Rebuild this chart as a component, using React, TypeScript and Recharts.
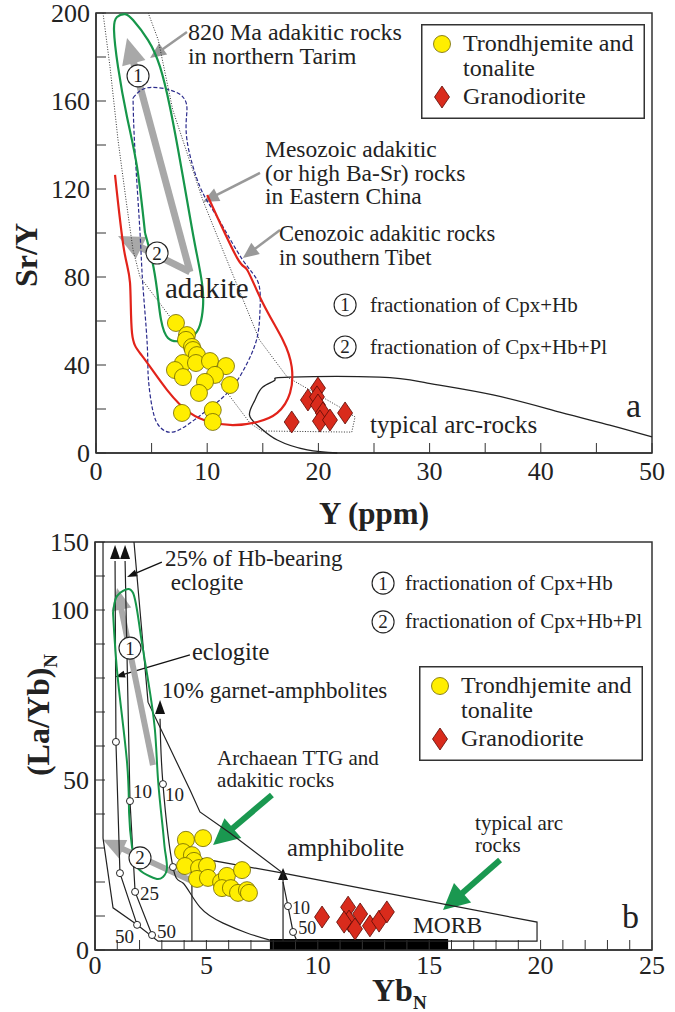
import React from "react";
import { ScatterChart, Scatter, XAxis, YAxis, ReferenceArea, ReferenceLine, ReferenceDot, Legend } from "recharts";

type Pt = [number, number];
const SERIF = "'Liberation Serif', 'Times New Roman', serif";
const INK = "#222";

// ---------- panel a : Sr/Y vs Y (ppm) ----------
const xTicksA = [0, 5, 10, 15, 20, 25, 30, 35, 40, 45, 50];
const xLabelsA = [0, 10, 20, 30, 40, 50];
const yTicksA = [0, 20, 40, 60, 80, 100, 120, 140, 160, 180, 200];
const yLabelsA = [0, 40, 80, 120, 160, 200];

const tonaliteA: Pt[] = [
  [7.19, 59.1], [8.18, 53.6], [8.09, 51.4], [8.63, 48.2], [8.72, 46.8], [9.08, 44.5],
  [7.82, 40.9], [8.99, 40.9], [10.25, 41.8], [11.69, 39.5], [7.1, 37.7], [7.82, 34.5],
  [10.7, 35.5], [9.8, 32.3], [12.05, 30.9], [9.26, 27.3], [7.73, 18.2], [10.5, 19.5], [10.5, 14.1],
];
const granodioriteA: Pt[] = [
  [19.96, 29.5], [19.06, 24.1], [19.87, 25.5], [19.96, 21.8], [20.4, 18.2],
  [20.14, 14.5], [21.04, 15], [22.4, 18.2], [17.6, 14.1],
];

// 820 Ma adakitic rocks, northern Tarim (green)
const tarimA: Pt[] = [
  [4.41, 100], [3.69, 130], [2.79, 152.7], [1.98, 175.5], [1.62, 192.3], [1.89, 198.2],
  [2.61, 199.5], [3.33, 196.8], [4.68, 187.7], [5.76, 175.5], [6.65, 157.3], [7.55, 133.2],
  [8.45, 107.3], [8.99, 92.3], [9.53, 77.3], [9.62, 66.4], [9.35, 58.2], [8.72, 53.2],
  [7.55, 50.9], [6.47, 52.3], [5.85, 60.5], [5.49, 74.1], [5.04, 87.7], [4.41, 100],
];
// Mesozoic adakitic rocks, Eastern China (dotted)
const mesozoicA: Pt[] = [
  [0.63, 200], [1.26, 175.5], [1.98, 142.3], [2.7, 115], [3.33, 92.3], [3.96, 80],
  [13.85, 13.6], [14.9, 10], [23.0, 9.5], [23.3, 16.4], [21.9, 20.9], [17.2, 34.5],
  [14.7, 51.4], [11.4, 92.3], [9.6, 115], [6.9, 156], [5.6, 187.7], [4.7, 200],
];
// Cenozoic adakitic rocks, southern Tibet (blue dashed)
const tibetA: Pt[] = [
  [3.33, 161.4], [4.59, 166], [6.65, 165], [7.82, 161.8], [8.18, 155.9], [8.18, 142.3],
  [9.35, 121], [10.9, 107.3], [13.2, 87.7], [14.6, 77.3], [14.75, 65], [14.5, 52.7],
  [13.6, 40.9], [12.05, 28.6], [10.0, 19.5], [8.45, 13.6], [6.9, 9.5], [5.75, 11.8],
  [5.1, 19.5], [4.7, 34.5], [4.6, 50], [4.2, 77.3], [3.96, 100], [3.5, 137.7], [3.33, 161.4],
];
// adakite field (red)
const adakiteA: Pt[] = [
  [1.71, 126.4], [2.52, 92.3], [3.06, 77.3], [3.24, 54.5], [4.23, 43.6], [6.4, 28.6],
  [8.45, 18.2], [10.25, 14.1], [12.3, 12.7], [14.5, 14.1], [16.3, 18.2], [17.45, 27.3],
  [17.6, 39.1], [16.8, 51.4], [15.0, 68.2], [13.6, 83.2], [12.7, 88.6], [10.0, 117.3],
];
// typical arc-rocks (black)
const arcA: Pt[] = [
  [21.7, 0], [19.0, 1.4], [16.3, 5.9], [14.7, 11.8], [13.8, 17.3], [14.3, 24.1], [15.0, 30],
  [16.1, 33.2], [17.4, 34.5], [25.5, 34.5], [29.8, 31.8], [35.7, 26.4], [41.7, 18.6],
  [46.2, 12.7], [50, 7.3],
];

// ---------- panel b : (La/Yb)N vs YbN ----------
const xTicksB = [0, 1, 2, 3, 4, 5, 6, 7, 8, 9, 10, 11, 12, 13, 14, 15, 16, 17, 18, 19, 20, 21, 22, 23, 24, 25];
const xLabelsB = [0, 5, 10, 15, 20, 25];
const yTicksB = [0, 10, 20, 30, 40, 50, 60, 70, 80, 90, 100, 125, 150];
const yLabelsB = [0, 50, 100, 150];

const tonaliteB: Pt[] = [
  [4.08, 32.4], [4.85, 32.9], [3.95, 28.8], [4.35, 27.9], [4.44, 26.2], [4.04, 24.7],
  [4.67, 24.1], [5.03, 24.7], [4.58, 20.9], [5.07, 21.2], [5.66, 20], [5.92, 21.8],
  [6.6, 23.5], [5.7, 18.2], [6.1, 18.2], [6.42, 16.8], [6.82, 17.6], [6.91, 16.8],
];
const granodioriteB: Pt[] = [
  [10.19, 9.7], [11.36, 12.6], [11.9, 10.6], [11.4, 8.5], [11.18, 8.2],
  [11.67, 6.2], [12.34, 7.1], [12.75, 8.5], [13.1, 11.2],
];
const tarimB: Pt[] = [
  [0.81, 99.1], [1.03, 79.4], [1.44, 55], [1.53, 40.3], [1.66, 30.3], [1.89, 24.4],
  [2.33, 22.1], [2.78, 20.9], [3.05, 21.5], [3.23, 24.1], [3.14, 29.4], [3.05, 35.3],
  [2.83, 50], [2.69, 64.7], [2.38, 79.4], [2.02, 94.1], [1.71, 112.5], [1.26, 114],
  [0.94, 108.8], [0.81, 99.1],
];
const envelopeB: Pt[] = [
  [0.36, 150], [0.36, 32.9], [0.81, 12.4], [1.89, 7.4], [2.83, 2.6], [19.84, 2.6],
  [19.84, 8.2], [8.44, 22.6], [6.06, 34.4], [4.71, 40.6], [4.26, 47.1], [2.38, 72.9], [1.75, 150],
];
const arcEdgeB: Pt[] = [[4.35, 2.6], [4.35, 27.4], [8.44, 22.6]];
const amphEdgeB: Pt[] = [[8.44, 22.6], [8.44, 2.6]];
const meltEclogite: Pt[] = [[1.89, 7.4], [1.12, 22.6], [0.94, 61.2], [0.9, 136]];
const meltHbEclogite: Pt[] = [[2.56, 4.4], [1.8, 17.1], [1.57, 43.8], [1.35, 136]];
const meltGtAmph: Pt[] = [[7.85, 2.9], [6.82, 5], [5.75, 7.9], [4.71, 12.6], [3.95, 19.7], [3.5, 24.4], [3.05, 48.8], [2.92, 68]];
const meltAmph: Pt[] = [[9.07, 2.6], [8.89, 5.3], [8.66, 12.9], [8.44, 20]];
const meltMarks: Pt[] = [
  [1.89, 7.4], [1.12, 22.6], [0.94, 61.2], [2.56, 4.4], [1.8, 17.1], [1.57, 43.8],
  [3.5, 24.4], [3.05, 48.8], [8.89, 5.3], [8.66, 12.9],
];
const morbRange = [7.85, 15.85];
const morbTop = 3.2;

// broken y axis of panel b: 0-100 linear, 100-150 compressed
const toDisp = (v: number) => (v <= 100 ? v : 100 + (v - 100) * 0.4);
const fromDisp = (d: number) => (d <= 100 ? d : 100 + (d - 100) / 0.4);

const ptsA = (a: Pt[]) => a.map(([x, y]) => ({ x, y }));
const ptsB = (a: Pt[]) => a.map(([x, y]) => ({ x, y: toDisp(y) }));

const noDot = () => <g />;
const yellowDot = (p: any) => <circle cx={p.cx} cy={p.cy} r={8.5} fill="#ffee00" stroke="#6e6400" strokeWidth={0.8} />;
const redDiamond = (p: any) => (
  <polygon
    points={`${p.cx},${p.cy - 11} ${p.cx + 7.5},${p.cy} ${p.cx},${p.cy + 11} ${p.cx - 7.5},${p.cy}`}
    fill="#d92b1c" stroke="#5a0a05" strokeWidth={0.8}
  />
);
const openDot = (p: any) => <circle cx={p.cx} cy={p.cy} r={3.5} fill="#fff" stroke={INK} strokeWidth={1} />;

function curve(key: string, data: { x: number; y: number }[], stroke: string, width: number, dash?: string, joint: any = "linear") {
  return (
    <Scatter key={key} data={data} shape={noDot} line={{ stroke, strokeWidth: width, strokeDasharray: dash }}
      lineJointType={joint} isAnimationActive={false} legendType="none" />
  );
}

function arrowShape(color: string, w: number, hl: number, hw: number) {
  return (p: any) => {
    const { x1, y1, x2, y2 } = p;
    const dx = x2 - x1, dy = y2 - y1;
    const len = Math.hypot(dx, dy) || 1;
    const ux = dx / len, uy = dy / len;
    const bx = x2 - ux * hl, by = y2 - uy * hl;
    const nx = (-uy * hw) / 2, ny = (ux * hw) / 2;
    return (
      <g>
        {w > 0 && <line x1={x1} y1={y1} x2={bx + ux} y2={by + uy} stroke={color} strokeWidth={w} />}
        <polygon points={`${x2},${y2} ${bx + nx},${by + ny} ${bx - nx},${by - ny}`} fill={color} />
      </g>
    );
  };
}

function arrow(key: string, from: Pt, to: Pt, color: string, w: number, hl: number, hw: number) {
  return (
    <ReferenceLine key={key} segment={[{ x: from[0], y: from[1] }, { x: to[0], y: to[1] }]}
      ifOverflow="visible" shape={arrowShape(color, w, hl, hw)} />
  );
}

function note(key: string, at: Pt, lines: string[], size = 24, lh = 24) {
  return (
    <ReferenceDot key={key} x={at[0]} y={at[1]} r={0} ifOverflow="visible"
      shape={(p: any) => (
        <text x={p.cx} y={p.cy} fontFamily={SERIF} fontSize={size} fill={INK}>
          {lines.map((l, i) => (
            <tspan key={i} x={p.cx} dy={i === 0 ? 0 : lh}>{l}</tspan>
          ))}
        </text>
      )} />
  );
}

function badge(key: string, at: Pt, n: string, r = 11) {
  return (
    <ReferenceDot key={key} x={at[0]} y={at[1]} r={0} ifOverflow="visible"
      shape={(p: any) => (
        <g>
          <circle cx={p.cx} cy={p.cy} r={r} fill="#fff" stroke={INK} strokeWidth={1.1} />
          <text x={p.cx} y={p.cy + 6.5} textAnchor="middle" fontFamily={SERIF} fontSize={19} fill={INK}>{n}</text>
        </g>
      )} />
  );
}

const legendBox = () => (
  <svg width={224} height={95} style={{ display: "block" }}>
    <rect x={0.75} y={0.75} width={222.5} height={93.5} fill="#fff" stroke="#333" strokeWidth={1.5} />
    {yellowDot({ cx: 21, cy: 20 })}
    <text x={42} y={27} fontFamily={SERIF} fontSize={24} fill={INK}>Trondhjemite and</text>
    <text x={42} y={52} fontFamily={SERIF} fontSize={24} fill={INK}>tonalite</text>
    {redDiamond({ cx: 21, cy: 73 })}
    <text x={42} y={80} fontFamily={SERIF} fontSize={24} fill={INK}>Granodiorite</text>
  </svg>
);

const tickStyle = { fill: INK, fontSize: 26, fontFamily: SERIF };
const axisStroke = { stroke: "#333", strokeWidth: 1.5 };

function PanelA() {
  return (
    <ScatterChart width={675} height={540} margin={{ top: 13, right: 23, bottom: 27, left: 36 }}>
      <XAxis type="number" dataKey="x" domain={[0, 50]} ticks={xTicksA} interval={0} height={60}
        tickSize={-10} tickMargin={19} tick={tickStyle} axisLine={axisStroke} tickLine={{ stroke: "#333" }}
        tickFormatter={(v: number) => (xLabelsA.includes(v) ? String(v) : "")}
        label={{
          content: (p: any) => (
            <text x={p.viewBox.x + p.viewBox.width / 2} y={p.viewBox.y + 71} textAnchor="middle"
              fontFamily={SERIF} fontSize={31} fontWeight="bold" fill={INK}>Y (ppm)</text>
          ),
        }} />
      <YAxis type="number" dataKey="y" domain={[0, 200]} ticks={yTicksA} interval={0} width={60}
        tickSize={-10} tickMargin={16} tick={tickStyle} axisLine={axisStroke} tickLine={{ stroke: "#333" }}
        tickFormatter={(v: number) => (yLabelsA.includes(v) ? String(v) : "")}
        label={{
          content: () => (
            <text x={37} y={255} transform="rotate(-90, 37, 255)" textAnchor="middle"
              fontFamily={SERIF} fontSize={32} fontWeight="bold" fill={INK}>Sr/Y</text>
          ),
        }} />
      <ReferenceArea x1={0} x2={50} y1={0} y2={200} fill="none" stroke="#333" strokeWidth={1.5} ifOverflow="visible" />

      {curve("meso", ptsA(mesozoicA), "#333", 1, "1 1.6")}
      {curve("tibet", ptsA(tibetA), "#2b2b8c", 1.2, "4 2", "natural")}
      {curve("arc", ptsA(arcA), "#222", 1.3, undefined, "natural")}
      {curve("adakite", ptsA(adakiteA), "#e2231a", 2.2, undefined, "natural")}
      {curve("tarim", ptsA(tarimA), "#16964a", 2.2, undefined, "natural")}

      {arrow("g1", [8.45, 82.3], [2.79, 188.6], "#a8a8a8", 7, 26, 24)}
      {arrow("g2", [8.45, 82.3], [1.98, 98.6], "#a8a8a8", 7, 26, 24)}
      {arrow("t1", [8.18, 191.4], [4.86, 179.5], "#999", 2.5, 16, 14)}
      {arrow("t2", [14.75, 127.3], [9.62, 114.1], "#999", 2.5, 16, 14)}
      {arrow("t3", [16.55, 101.4], [13.2, 88.6], "#999", 2.5, 16, 14)}

      <Scatter name="Trondhjemite and tonalite" data={ptsA(tonaliteA)} shape={yellowDot} isAnimationActive={false} />
      <Scatter name="Granodiorite" data={ptsA(granodioriteA)} shape={redDiamond} isAnimationActive={false} />

      {badge("c1", [3.78, 171.4], "1")}
      {badge("c2", [5.49, 90.9], "2")}
      {note("n820", [8.27, 187.7], ["820 Ma adakitic rocks", "in northern Tarim"], 24, 24)}
      {note("nmeso", [15.2, 134.5], ["Mesozoic adakitic", "(or high Ba-Sr) rocks", "in Eastern China"], 23.5, 23.5)}
      {note("nceno", [16.46, 96.4], ["Cenozoic adakitic rocks", "in southern Tibet"], 22.5, 24)}
      {note("nadak", [6.2, 70.5], ["adakite"], 29)}
      {badge("k1", [22.4, 67.3], "1")}
      {note("nk1", [24.64, 64.1], ["fractionation of Cpx+Hb"], 21)}
      {badge("k2", [22.4, 48.2], "2")}
      {note("nk2", [24.64, 45], ["fractionation of Cpx+Hb+Pl"], 21)}
      {note("narc", [24.64, 9.1], ["typical arc-rocks"], 25)}
      {note("na", [47.66, 16.4], ["a"], 34)}

      <Legend layout="horizontal" verticalAlign="middle" align="center" content={legendBox}
        wrapperStyle={{ left: 421, top: 24, width: 224, height: 95 }} />
    </ScatterChart>
  );
}

function PanelB() {
  return (
    <ScatterChart width={675} height={492} margin={{ top: 22, right: 23, bottom: 7, left: 35 }}>
      <XAxis type="number" dataKey="x" domain={[0, 25]} ticks={xTicksB} interval={0} height={55}
        tickSize={-10} tickMargin={16} tick={tickStyle} axisLine={axisStroke} tickLine={{ stroke: "#333" }}
        tickFormatter={(v: number) => (xLabelsB.includes(v) ? String(v) : "")}
        label={{
          content: () => (
            <text x={372} y={481} fontFamily={SERIF} fontSize={32} fontWeight="bold" fill={INK}>
              Yb<tspan dy={8} fontSize={19}>N</tspan>
            </text>
          ),
        }} />
      <YAxis type="number" dataKey="y" domain={[0, toDisp(150)]} ticks={yTicksB.map(toDisp)} interval={0} width={60}
        tickSize={-10} tickMargin={16} tick={tickStyle} axisLine={axisStroke} tickLine={{ stroke: "#333" }}
        tickFormatter={(d: number) => {
          const v = Math.round(fromDisp(d));
          return yLabelsB.includes(v) ? String(v) : "";
        }}
        label={{
          content: () => (
            <text x={49} y={195} transform="rotate(-90, 49, 195)" textAnchor="middle"
              fontFamily={SERIF} fontSize={32} fontWeight="bold" fill={INK}>
              (La/Yb)<tspan dy={8} fontSize={19}>N</tspan>
            </text>
          ),
        }} />
      <ReferenceArea x1={0} x2={25} y1={0} y2={toDisp(150)} fill="none" stroke="#333" strokeWidth={1.5} ifOverflow="visible" />
      <ReferenceArea x1={morbRange[0]} x2={morbRange[1]} y1={0} y2={toDisp(morbTop)} fill="#000" fillOpacity={1} stroke="none" />

      {curve("env", ptsB(envelopeB), "#222", 1.2)}
      {curve("arcEdge", ptsB(arcEdgeB), "#222", 1.2)}
      {curve("amphEdge", ptsB(amphEdgeB), "#222", 1.2)}
      {curve("m1", ptsB(meltEclogite), "#222", 1.2)}
      {curve("m2", ptsB(meltHbEclogite), "#222", 1.2)}
      {curve("m3", ptsB(meltGtAmph), "#222", 1.2, undefined, "natural")}
      {curve("m4", ptsB(meltAmph), "#222", 1.2)}
      {curve("tarimB", ptsB(tarimB), "#16964a", 2, undefined, "natural")}
      <Scatter data={ptsB(meltMarks)} shape={openDot} isAnimationActive={false} legendType="none" />

      {arrow("h1", [0.9, 114.7], [0.9, 119.1], "#111", 0, 14, 10)}
      {arrow("h2", [1.35, 114.7], [1.35, 119.1], "#111", 0, 14, 10)}
      {arrow("h3", [2.92, 69.1], [2.92, 73.5], "#111", 0, 14, 10)}
      {arrow("h4", [8.44, 20.6], [8.44, 24.1], "#111", 0, 12, 10)}
      {arrow("b1", [3.0, 114.1], [1.44, 109.7], "#111", 1.3, 10, 7)}
      {arrow("b2", [4.26, 86.8], [0.9, 80.3], "#111", 1.3, 10, 7)}
      {arrow("gb1", [2.6, 54.4], [0.99, 106.5], "#a8a8a8", 6, 22, 20)}
      {arrow("gb2", [4.26, 20.6], [0.36, 32.4], "#a8a8a8", 6, 22, 20)}
      {arrow("gr1", [7.94, 45.6], [5.3, 30.9], "#1a9850", 6, 26, 26)}
      {arrow("gr2", [18.18, 26.5], [15.62, 11.8], "#1a9850", 6, 26, 26)}

      <Scatter name="Trondhjemite and tonalite" data={ptsB(tonaliteB)} shape={yellowDot} isAnimationActive={false} />
      <Scatter name="Granodiorite" data={ptsB(granodioriteB)} shape={redDiamond} isAnimationActive={false} />

      {badge("d1", [1.57, 88.8], "1")}
      {badge("d2", [2.02, 27.1], "2")}
      {note("nhb", [3.14, 112.8], ["25% of Hb-bearing", " eclogite"], 23, 24)}
      {note("necl", [4.35, 85.3], ["eclogite"], 24.5)}
      {note("ngt", [3.0, 74.1], ["10% garnet-amphbolites"], 23)}
      {note("ntt", [5.48, 54.4], ["Archaean TTG and", "adakitic rocks"], 21, 22)}
      {note("namph", [8.62, 27.6], ["amphibolite"], 24.5)}
      {note("narcb", [17.06, 35.3], ["typical arc", "rocks"], 21, 22.5)}
      {note("nmorb", [14.27, 5], ["MORB"], 23.5)}
      {note("nb", [23.65, 6.5], ["b"], 34)}
      {badge("e1", [12.93, 107.9], "1")}
      {note("ne1", [13.91, 105.9], ["fractionation of Cpx+Hb"], 21)}
      {badge("e2", [12.93, 96.5], "2")}
      {note("ne2", [13.91, 94.7], ["fractionation of Cpx+Hb+Pl"], 21)}
      {note("p10a", [1.71, 44.7], ["10"], 19)}
      {note("p10b", [3.14, 43.8], ["10"], 19)}
      {note("p25", [2.02, 14.7], ["25"], 19)}
      {note("p50a", [0.9, 2.1], ["50"], 19)}
      {note("p50b", [2.78, 3.5], ["50"], 19)}
      {note("p10c", [8.84, 10.6], ["10"], 18)}
      {note("p50c", [9.12, 4.6], ["50"], 18)}

      <Legend layout="horizontal" verticalAlign="middle" align="center" content={legendBox}
        wrapperStyle={{ left: 419, top: 146, width: 224, height: 95 }} />
    </ScatterChart>
  );
}

export default function App() {
  return (
    <div style={{ position: "absolute", left: 0, top: 0, width: 675, height: 1012, background: "#fff", overflow: "hidden", fontFamily: SERIF }}>
      <div style={{ position: "absolute", left: 0, top: 0 }}>
        <PanelA />
      </div>
      <div style={{ position: "absolute", left: 0, top: 520 }}>
        <PanelB />
      </div>
    </div>
  );
}
